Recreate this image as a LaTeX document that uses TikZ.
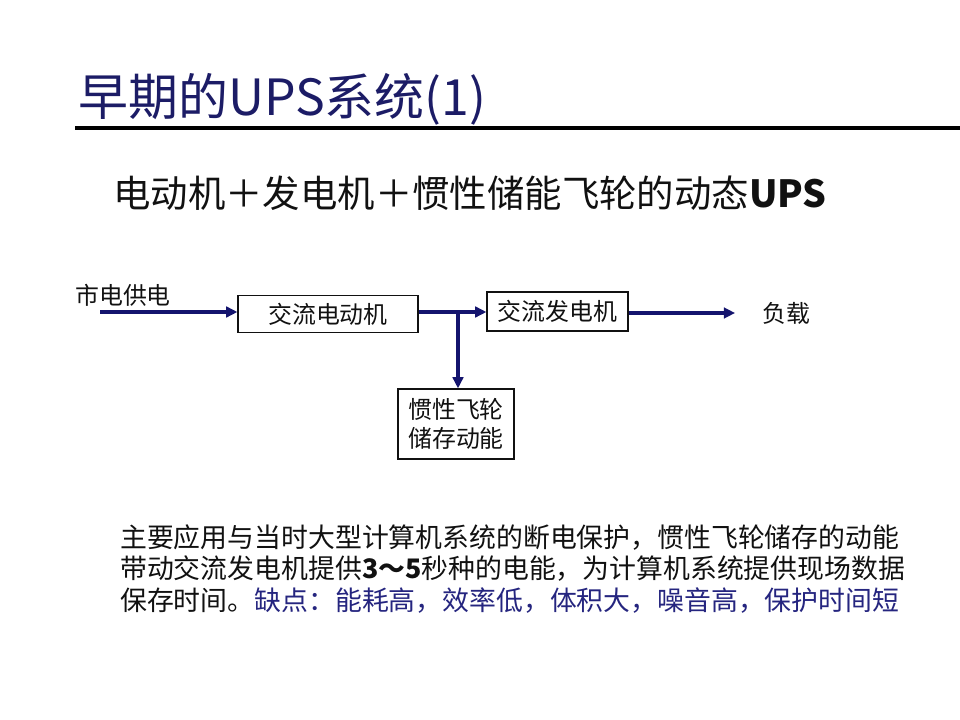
\documentclass[tikz,border=0pt]{standalone}
\usepackage{fontspec}
\setmainfont{Noto Sans CJK SC}
\usetikzlibrary{arrows.meta,positioning,calc}
\definecolor{navy}{HTML}{1C1C66}
\definecolor{linenavy}{HTML}{14146E}
\definecolor{ink}{HTML}{111111}
\definecolor{weak}{HTML}{25257F}
\tikzset{
  every node/.style={text=ink},
  box/.style={draw=ink, line width=0.8pt, fill=white, align=center, inner sep=0pt, font=\fontsize{17}{20.5}\selectfont},
  label/.style={font=\fontsize{17}{20}\selectfont},
  title/.style={font=\fontsize{35.5}{38}\selectfont, text=navy},
  subtitle/.style={font=\fontsize{26.6}{29}\selectfont},
  body/.style={font=\fontsize{19.1}{22.7}\selectfont, align=left, inner sep=0pt},
  flow/.style={-{Triangle[length=8pt,width=7.5pt]}, line width=2.6pt, draw=linenavy},
}
\begin{document}
\begin{tikzpicture}[x=0.025cm,y=-0.025cm]
\useasboundingbox[fill=white] (0,0) rectangle (960,720);
% heading
\node[title, anchor=base west, inner sep=0pt] (t) at (78,116) {早期的UPS系统(1)};
\draw[line width=2.4pt, draw=black] (75,128) -- (960,128);
\node[subtitle, anchor=west, inner sep=0pt] (sub) at (113,193) {电动机＋发电机＋惯性储能飞轮的动态\textbf{UPS}};
% diagram
\node[box, minimum width=4.5cm, minimum height=0.925cm] (motor) at (328,314) {交流电动机};
\node[box, minimum width=3.525cm, minimum height=0.975cm] (gen) at (557.5,311.5) {交流发电机};
\node[box, minimum width=2.9cm, minimum height=1.75cm] (fly) at (456,424) {惯性飞轮\\储存动能};
\node[label, anchor=west, inner sep=0pt] (grid) at (75,295) {市电供电};
\node[label, anchor=west, inner sep=0pt] (load) at (762,313) {负载};
\coordinate (src) at (100,312);
\coordinate (junc) at (458,312);
\draw[flow] (src) -- (src -| motor.west);
\draw[flow] (junc -| motor.east) -- (junc -| gen.west);
\draw[flow] (junc) -- (junc |- fly.north);
\draw[flow, shorten >=27*0.7087pt] (gen.east |- load) -- (load.west);
% notes
\node[body, anchor=north west] (note) at (120,524) {主要应用与当时大型计算机系统的断电保护，惯性飞轮储存的动能\\
带动交流发电机提供\textbf{3～5}秒种的电能，为计算机系统提供现场数据\\
保存时间。\textcolor{weak}{缺点：能耗高，效率低，体积大，噪音高，保护时间短}};
\end{tikzpicture}
\end{document}
